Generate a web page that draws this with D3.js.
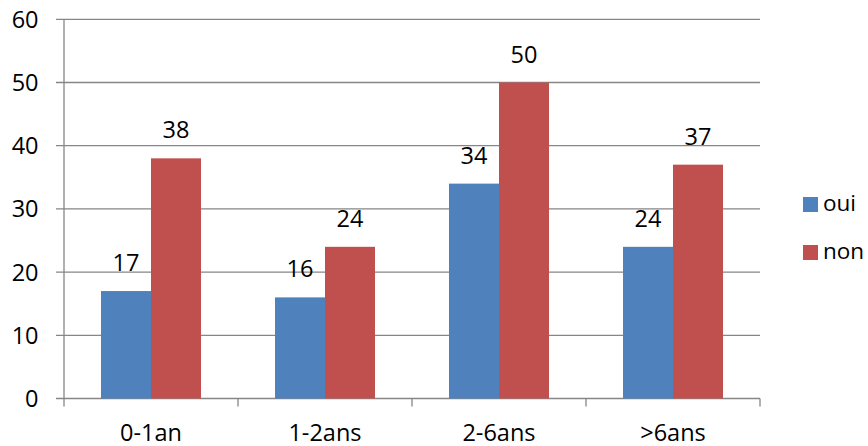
<!DOCTYPE html>
<html><head><meta charset="utf-8">
<script src="https://cdn.jsdelivr.net/npm/d3@7"></script>
<style>body{margin:0;background:#fff}svg{display:block}text{font-family:"Open Sans","Liberation Sans",Arial,sans-serif;fill:#000}</style>
</head><body>
<svg id="c" width="868" height="446"></svg>
<script>
const categories = ["0-1an","1-2ans","2-6ans",">6ans"];
const seriesNames = ["oui","non"];
const oui = [17,16,34,24];
const non = [38,24,50,37];
const yTicks = [0,10,20,30,40,50,60];
const colors = ["#4F81BD","#C0504D"];

(function(){
const svg = d3.select("#c");
const mLeft = 64, mRight = 760, mTop = 19.3, mBottom = 398.5;
const x = d3.scaleBand().domain(categories).range([mLeft,mRight]);
const x1 = d3.scaleBand().domain(seriesNames).range([37,174-37]);
const y = d3.scaleLinear().domain([0,60]).range([mBottom,mTop]);
const fs = 23.5;

svg.append("g").selectAll("line").data(yTicks).join("line")
  .attr("x1",mLeft-8).attr("x2",mRight).attr("y1",d=>y(d)).attr("y2",d=>y(d))
  .attr("stroke","#868686").attr("stroke-width",1.3);
svg.append("line").attr("x1",mLeft).attr("x2",mLeft).attr("y1",mTop).attr("y2",mBottom)
  .attr("stroke","#868686").attr("stroke-width",1.3);
svg.append("g").selectAll("text").data(yTicks).join("text")
  .attr("x",38.5).attr("y",d=>y(d)+8.4).attr("text-anchor","end").attr("font-size",fs).text(d=>d);
const xt = categories.map(c=>x(c)).concat([mRight]);
svg.append("g").selectAll("line").data(xt).join("line")
  .attr("x1",d=>d).attr("x2",d=>d).attr("y1",mBottom).attr("y2",mBottom+8)
  .attr("stroke","#868686").attr("stroke-width",1.3);
const data = categories.map((c,i)=>({c, vals:[oui[i],non[i]]}));
const g = svg.append("g").selectAll("g").data(data).join("g")
  .attr("transform",d=>`translate(${x(d.c)},0)`);
g.selectAll("rect").data(d=>d.vals.map((v,j)=>({v,s:seriesNames[j],j}))).join("rect")
  .attr("x",d=>x1(d.s)).attr("width",x1.bandwidth())
  .attr("y",d=>y(d.v)).attr("height",d=>mBottom-y(d.v))
  .attr("fill",d=>colors[d.j]);
g.selectAll("text").data(d=>d.vals.map((v,j)=>({v,s:seriesNames[j]}))).join("text")
  .attr("x",d=>x1(d.s)+x1.bandwidth()/2).attr("y",d=>y(d.v)-20)
  .attr("text-anchor","middle").attr("font-size",fs).text(d=>d.v);
svg.append("g").selectAll("text").data(categories).join("text")
  .attr("x",d=>x(d)+x.bandwidth()/2).attr("y",440.5).attr("text-anchor","middle")
  .attr("font-size",fs).text(d=>d);
const lg = svg.append("g").selectAll("g").data(seriesNames).join("g")
  .attr("transform",(d,i)=>`translate(803,${197+i*48})`);
lg.append("rect").attr("width",15).attr("height",15).attr("fill",(d,i)=>colors[i]);
lg.append("text").attr("x",20).attr("y",14).attr("font-size",22.5).text(d=>d);
})();
</script>
</body></html>
